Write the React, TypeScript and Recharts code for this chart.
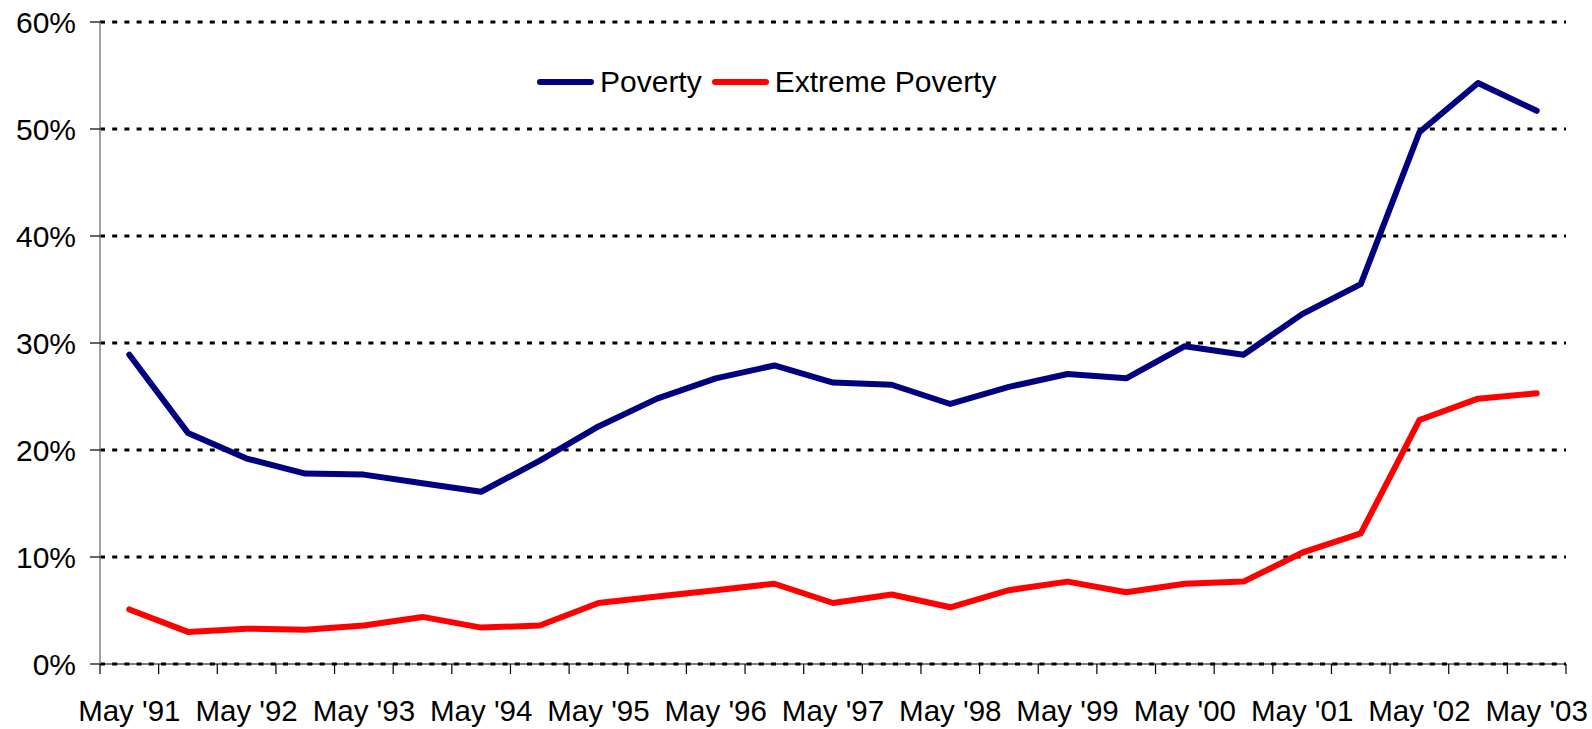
import React from 'react';
import { LineChart, Line, XAxis, YAxis, CartesianGrid } from 'recharts';

const periods = [
  "May '91", "Oct '91", "May '92", "Oct '92", "May '93", "Oct '93", "May '94", "Oct '94",
  "May '95", "Oct '95", "May '96", "Oct '96", "May '97", "Oct '97", "May '98", "Oct '98",
  "May '99", "Oct '99", "May '00", "Oct '00", "May '01", "Oct '01", "May '02", "Oct '02", "May '03",
];
const povertyValues = [28.9, 21.6, 19.2, 17.8, 17.7, 16.9, 16.1, 19.0, 22.2, 24.8, 26.7, 27.9, 26.3, 26.1, 24.3, 25.9, 27.1, 26.7, 29.7, 28.9, 32.7, 35.5, 49.7, 54.3, 51.7];
const extremeValues = [5.1, 3.0, 3.3, 3.2, 3.6, 4.4, 3.4, 3.6, 5.7, 6.3, 6.9, 7.5, 5.7, 6.5, 5.3, 6.9, 7.7, 6.7, 7.5, 7.7, 10.4, 12.2, 22.8, 24.8, 25.3];
const yTicks = [0, 10, 20, 30, 40, 50, 60];
const seriesNames = ['Poverty', 'Extreme Poverty'];
const seriesColors = ['#000080', '#FF0000'];

const data = periods.map((p, i) => ({ x: i + 0.5, period: p, poverty: povertyValues[i], extreme: extremeValues[i] }));
const xTicks: number[] = [];
for (let i = 0; i <= periods.length * 2; i++) xTicks.push(i / 2);

const FONT = '"Liberation Sans", Arial, sans-serif';

const XTick = (props: any) => {
  const { x, y, payload } = props;
  const v = payload.value as number;
  if (Number.isInteger(v)) {
    return <line x1={x} y1={y} x2={x} y2={y + 10} stroke="#000" strokeWidth={1.2} />;
  }
  const idx = Math.floor(v);
  const label = periods[idx];
  if (!label || !label.startsWith('May')) return <g />;
  return (
    <text x={x} y={y + 57} textAnchor="middle" fill="#000" fontSize={29.5} fontFamily={FONT}>
      {label}
    </text>
  );
};

export default function App() {
  return (
    <div style={{ position: 'absolute', left: 0, top: 0, width: 1592, height: 729, background: '#fff' }}>
      <LineChart width={1592} height={729} data={data} margin={{ top: 22, right: 26, left: 0, bottom: 0 }}>
        <CartesianGrid horizontal vertical={false} stroke="#000" strokeWidth={3} strokeDasharray="5 7.2" />
        <XAxis
          dataKey="x"
          type="number"
          domain={[0, 25]}
          ticks={xTicks}
          interval={0}
          tickSize={0}
          tickMargin={0}
          tickLine={false}
          tick={<XTick />}
          height={65}
          axisLine={{ stroke: '#000', strokeWidth: 1.2 }}
        />
        <YAxis
          type="number"
          domain={[0, 60]}
          ticks={yTicks}
          width={100}
          tickSize={10}
          tickMargin={14}
          tickFormatter={(v: number) => `${v}%`}
          tick={{ fill: '#000', fontSize: 30, fontFamily: FONT }}
          tickLine={{ stroke: '#000', strokeWidth: 1.2 }}
          axisLine={{ stroke: '#808080', strokeWidth: 1.5 }}
        />
        <Line dataKey="poverty" name={seriesNames[0]} stroke={seriesColors[0]} strokeWidth={6} dot={false} strokeLinecap="round" strokeLinejoin="round" isAnimationActive={false} />
        <Line dataKey="extreme" name={seriesNames[1]} stroke={seriesColors[1]} strokeWidth={6} dot={false} strokeLinecap="round" strokeLinejoin="round" isAnimationActive={false} />
      </LineChart>
      <div style={{ position: 'absolute', top: 64, left: 537, display: 'flex', alignItems: 'center', fontFamily: FONT, fontSize: 30, color: '#000', whiteSpace: 'nowrap', lineHeight: '36px' }}>
        {seriesNames.map((name, i) => (
          <div key={name} style={{ display: 'flex', alignItems: 'center', marginRight: 10 }}>
            <svg width={57} height={10} style={{ marginRight: 6 }}>
              <line x1={3} y1={5} x2={54} y2={5} stroke={seriesColors[i]} strokeWidth={6} strokeLinecap="round" />
            </svg>
            <span>{name}</span>
          </div>
        ))}
      </div>
    </div>
  );
}
